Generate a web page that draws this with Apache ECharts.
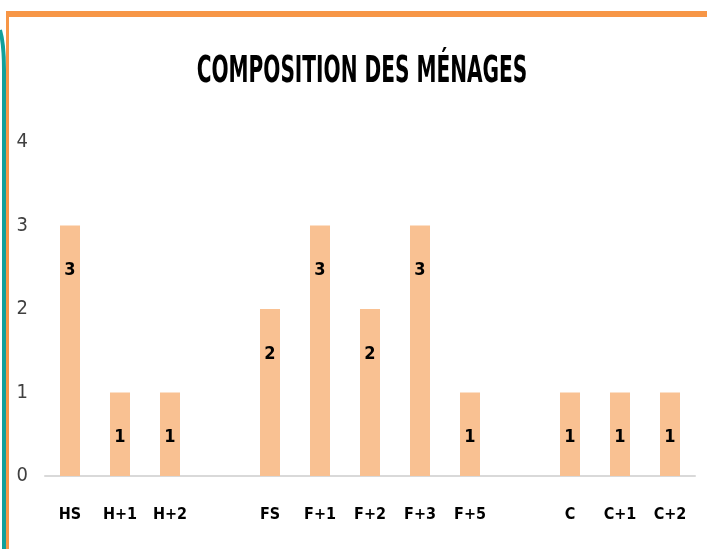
<!DOCTYPE html>
<html>
<head>
<meta charset="utf-8">
<title>Composition des ménages</title>
<script src="https://cdn.jsdelivr.net/npm/echarts@6/dist/echarts.min.js"></script>
<style>
  html, body { margin: 0; padding: 0; background: #fff; }
  #main { width: 707px; height: 549px; }
</style>
</head>
<body>
<div id="main"></div>
<script>
// données (les '' sont les espaces entre groupes)
var categories = ['HS', 'H+1', 'H+2', '', 'FS', 'F+1', 'F+2', 'F+3', 'F+5', '', 'C', 'C+1', 'C+2'];
var valeurs = [3, 1, 1, null, 2, 3, 2, 3, 1, null, 1, 1, 1];
var yTicks = [0, 1, 2, 3, 4];

var narrow = "'Liberation Sans Narrow', 'DejaVu Sans Condensed', 'Liberation Sans', sans-serif";

var myChart = echarts.init(document.getElementById('main'));

var option = {
    animation: false,
    backgroundColor: '#fff',
    grid: { left: 45, right: 12, top: 142, bottom: 73 },
    graphic: [
        // cadre orange
        { type: 'rect', shape: { x: 6, y: 11, width: 701, height: 6 }, style: { fill: '#F79646' } },
        { type: 'rect', shape: { x: 6, y: 11, width: 3, height: 538 }, style: { fill: '#F79646' } },
        // trait bleu-vert à gauche
        {
            type: 'bezierCurve',
            shape: { x1: 0, y1: 30, cpx1: 3, cpy1: 40, cpx2: 4, cpy2: 50, x2: 4, y2: 70 },
            style: { stroke: '#12A09A', lineWidth: 4, fill: null }
        },
        {
            type: 'line',
            shape: { x1: 4, y1: 70, x2: 4, y2: 549 },
            style: { stroke: '#12A09A', lineWidth: 4 }
        },
        // titre
        {
            type: 'text', x: 362, y: 73, scaleX: 0.86, scaleY: 1.4,
            style: {
                text: 'COMPOSITION DES MÉNAGES',
                font: 'bold 26px ' + narrow,
                fill: '#000', align: 'center', verticalAlign: 'middle'
            }
        }
    ],
    xAxis: {
        type: 'category',
        data: categories,
        axisLine: { lineStyle: { color: '#D9D9D9', width: 2 } },
        axisTick: { show: false },
        axisLabel: {
            color: '#000', fontFamily: narrow, fontWeight: 'bold', fontSize: 16,
            margin: 31, interval: 0
        }
    },
    yAxis: {
        type: 'value',
        min: yTicks[0],
        max: yTicks[yTicks.length - 1],
        interval: 1,
        splitLine: { show: false },
        axisLine: { show: false },
        axisTick: { show: false },
        axisLabel: { color: '#404040', fontFamily: narrow, fontSize: 20, margin: 17 }
    },
    series: [{
        name: 'Ménages',
        type: 'bar',
        data: valeurs,
        barWidth: 20,
        itemStyle: { color: '#F9C192' },
        label: {
            show: true,
            position: 'insideTop',
            distance: 36,
            color: '#000',
            fontFamily: narrow,
            fontWeight: 'bold',
            fontSize: 18
        }
    }]
};

myChart.setOption(option);
</script>
</body>
</html>
